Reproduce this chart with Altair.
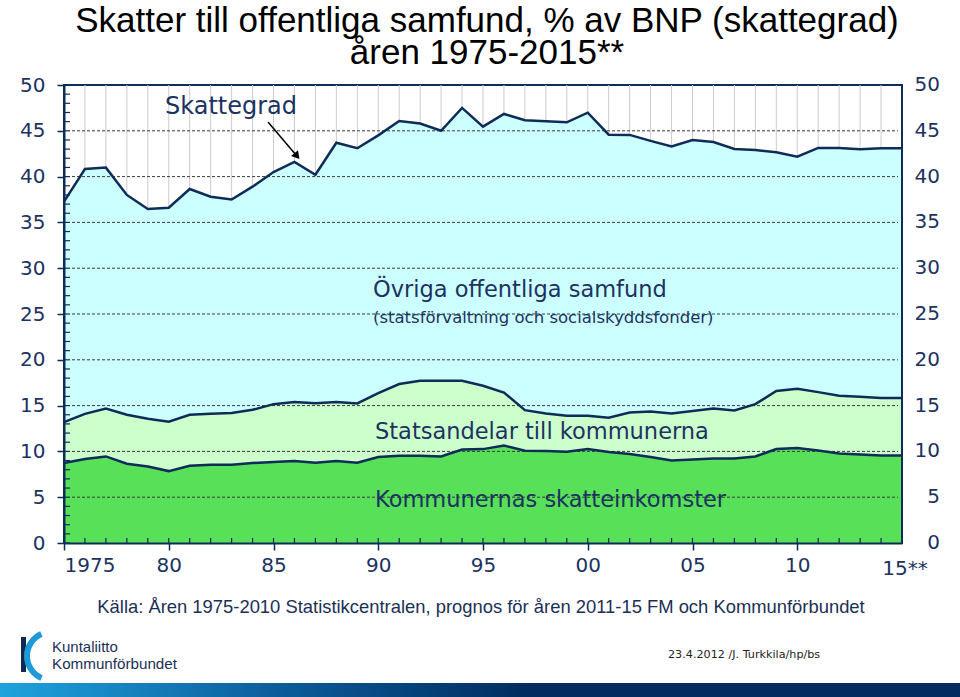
import altair as alt
import pandas as pd

# ---- data ----
years = list(range(1975, 2016))
skattegrad = [37.27, 40.83, 40.98, 38.0, 36.47, 36.6, 38.65, 37.8, 37.5, 38.9,
              40.5, 41.6, 40.2, 43.7, 43.1, 44.5, 46.07, 45.8, 45.0, 47.5,
              45.45, 46.84, 46.15, 46.04, 45.93, 46.98, 44.58, 44.55, 43.9, 43.3,
              44.0, 43.78, 43.02, 42.9, 42.65, 42.18, 43.13, 43.13, 42.98, 43.1, 43.1]
kommun_skatt = [8.73, 9.16, 9.45, 8.65, 8.36, 7.85, 8.43, 8.54, 8.54, 8.73,
                8.84, 8.95, 8.76, 8.95, 8.76, 9.38, 9.52, 9.52, 9.45, 10.21,
                10.25, 10.65, 10.07, 10.04, 9.96, 10.25, 9.93, 9.71, 9.38, 9.01,
                9.12, 9.23, 9.23, 9.45, 10.25, 10.36, 10.1, 9.78, 9.67, 9.56, 9.56]
statsandelar = [4.47, 4.94, 5.24, 5.35, 5.2, 5.39, 5.57, 5.56, 5.66, 5.81,
                6.32, 6.43, 6.51, 6.43, 6.47, 6.98, 7.83, 8.18, 8.25, 7.49,
                6.91, 5.78, 4.43, 4.10, 3.93, 3.64, 3.74, 4.54, 4.98, 5.13,
                5.28, 5.46, 5.24, 5.71, 6.35, 6.47, 6.37, 6.29, 6.29, 6.26, 6.26]
y_ticks = [0, 5, 10, 15, 20, 25, 30, 35, 40, 45, 50]
x_label_years = [1975, 1980, 1985, 1990, 1995, 2000, 2005, 2010]
last_label = "15**"

df = pd.DataFrame({"year": years, "total": skattegrad,
                   "kommun": kommun_skatt, "stats": statsandelar})
df["mid"] = df["kommun"] + df["stats"]

W, H = 838, 458
NAVY = "#0f2b57"
TXT = "#1c3260"
FONT = "DejaVu Sans"
SANS = "Liberation Sans"

xs = alt.Scale(domain=[1975, 2015], nice=False, zero=False)
ys = alt.Scale(domain=[0, 50], nice=False)
xaxis = alt.Axis(values=x_label_years, title=None, grid=False,
                 labelExpr="datum.value == 1975 ? '1975' : format(datum.value % 100, '02d')",
                 labelFont=FONT, labelFontSize=20, labelColor=TXT,
                 tickSize=7, tickColor=NAVY, tickWidth=1.5, labelPadding=5,
                 domainColor=NAVY, domainWidth=2, zindex=1)
yaxis = alt.Axis(values=y_ticks, title=None, grid=False,
                 labelFont=FONT, labelFontSize=20, labelColor=TXT,
                 tickSize=7, tickColor=NAVY, tickWidth=1.5, labelPadding=12,
                 domainColor=NAVY, domainWidth=2, zindex=1)

def X(f="year"):
    return alt.X(f"{f}:Q", scale=xs, axis=xaxis)

def Y(f):
    return alt.Y(f"{f}:Q", scale=ys, axis=yaxis)

base = alt.Chart(df)
one = pd.DataFrame({"k": [0]})

vgrid = base.transform_filter("datum.year > 1975 && datum.year < 2015").mark_rule(
    color="#cccccc", strokeWidth=1).encode(x=X(), y=alt.value(0), y2=alt.value(H))

area_ov = base.mark_area(color="#ccffff").encode(x=X(), y=Y("total"), y2="mid")
area_st = base.mark_area(color="#ccffcc").encode(x=X(), y=Y("mid"), y2="kommun")
area_ko = base.mark_area(color="#58e058").encode(x=X(), y=Y("kommun"))

hgrid = alt.Chart(pd.DataFrame({"v": y_ticks[1:-1]})).mark_rule(
    color="#3a3a3a", strokeWidth=1, strokeDash=[3, 2]).encode(
    y=Y("v"), x=alt.value(8), x2=alt.value(W - 4))

yminor = alt.Chart(pd.DataFrame({"v": list(range(0, 51))})).mark_rule(
    color=NAVY, strokeWidth=1.2).encode(y=Y("v"), x=alt.value(0), x2=alt.value(6))
xminor = base.mark_rule(color=NAVY, strokeWidth=1.2).encode(
    x=X(), y=alt.value(H), y2=alt.value(H - 5))

lw = 2.5
line_tot = base.mark_line(color=NAVY, strokeWidth=lw).encode(x=X(), y=Y("total"))
line_mid = base.mark_line(color=NAVY, strokeWidth=lw).encode(x=X(), y=Y("mid"))
line_ko = base.mark_line(color=NAVY, strokeWidth=lw).encode(x=X(), y=Y("kommun"))

right_border = alt.Chart(one).mark_rule(color=NAVY, strokeWidth=2).encode(
    x=alt.value(W), y=alt.value(0), y2=alt.value(H))

right_labels = alt.Chart(pd.DataFrame({"v": y_ticks})).mark_text(
    align="right", baseline="middle", font=FONT, fontSize=20, color=TXT).encode(
    y=Y("v"), x=alt.value(876), text="v:Q")

last_lbl = alt.Chart(pd.DataFrame({"year": [2015], "t": [last_label]})).mark_text(
    align="center", baseline="top", font=FONT, fontSize=20, color=TXT, dx=3).encode(
    x=X(), y=alt.value(H + 16), text="t:N")

def txt(s, x, y, size, font=FONT, color=TXT, align="left", baseline="middle"):
    return alt.Chart(one).mark_text(text=s, align=align, baseline=baseline, font=font,
                                    fontSize=size, color=color).encode(
        x=alt.value(x), y=alt.value(y))

labels = [
    txt("Skattegrad", 101, 22, 24),
    txt("Övriga offentliga samfund", 309, 205, 22.5),
    txt("(statsförvaltning och socialskyddsfonder)", 309, 233, 16.5),
    txt("Statsandelar till kommunerna", 311, 347, 22.5),
    txt("Kommunernas skatteinkomster", 311, 415, 22.5),
    txt("Skatter till offentliga samfund, % av BNP (skattegrad)", 423, -53, 35,
        font=SANS, color="#000000", align="center", baseline="alphabetic"),
    txt("åren 1975-2015**", 423, -21, 35,
        font=SANS, color="#000000", align="center", baseline="alphabetic"),
    txt("Källa: Åren 1975-2010 Statistikcentralen, prognos för åren 2011-15 FM och Kommunförbundet",
        417, 522, 18.4, font=SANS, color="#1b2f55", align="center"),
    txt("Kuntaliitto", -12, 562, 15, font=SANS, color="#1b2f55"),
    txt("Kommunförbundet", -12, 579, 15.2, font=SANS, color="#1b2f55"),
    txt("23.4.2012 /J. Turkkila/hp/bs", 604, 570, 11.2, color="#222222"),
]

arrow = alt.Chart(one).mark_rule(color="black", strokeWidth=1.5).encode(
    x=alt.value(204), y=alt.value(37), x2=alt.value(232), y2=alt.value(70))
arrow_head = alt.Chart(one).mark_point(shape="triangle-up", filled=True, size=80,
                                       angle=140, color="black", opacity=1).encode(
    x=alt.value(233), y=alt.value(71))

bar = alt.Chart(one).mark_rect(fill=alt.Gradient(
    gradient="linear", x1=0, x2=1, y1=0, y2=0,
    stops=[alt.GradientStop(color="#1ea3dd", offset=0),
           alt.GradientStop(color="#0b5a98", offset=0.3),
           alt.GradientStop(color="#002c5f", offset=0.55),
           alt.GradientStop(color="#002c5f", offset=1)])).encode(
    x=alt.value(-64), x2=alt.value(896), y=alt.value(598), y2=alt.value(612))

logo_bar = alt.Chart(one).mark_rect(color="#10284f").encode(
    x=alt.value(-43), x2=alt.value(-38), y=alt.value(552), y2=alt.value(587))
logo_arc = alt.Chart(one).mark_arc(color="#1e9ad6", theta=3.55, theta2=5.87,
                                   radius=27, radius2=21).encode(
    x=alt.value(-13), y=alt.value(571))

chart = alt.layer(
    vgrid, area_ov, area_st, area_ko, hgrid, yminor, xminor,
    line_tot, line_mid, line_ko, right_border, right_labels, last_lbl,
    *labels, arrow, arrow_head, bar, logo_bar, logo_arc
).properties(
    width=W, height=H, autosize="none",
    padding={"left": 64, "top": 85, "right": 58, "bottom": 154},
    background="white"
).configure_view(stroke=NAVY, strokeWidth=2)

chart.save("out.html", embed_options={"renderer": "svg", "actions": False})
